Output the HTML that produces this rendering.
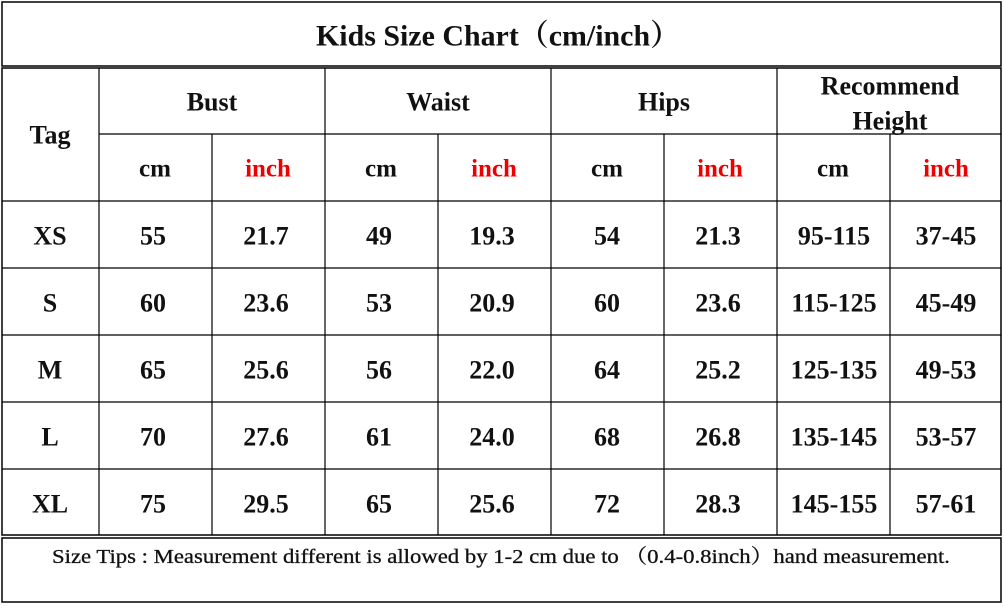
<!DOCTYPE html>
<html><head><meta charset="utf-8"><style>
body{margin:0;background:#fff;width:1004px;height:604px;overflow:hidden}
svg text{font-family:"Liberation Serif","Noto Serif CJK SC",serif;font-weight:bold;text-anchor:middle;dominant-baseline:central;fill:#111}
</style></head><body>
<svg width="1004" height="604" xmlns="http://www.w3.org/2000/svg">
<g stroke="#000" stroke-width="1.5" fill="none">
<rect x="2" y="2" width="999" height="64"/>
<rect x="2" y="68" width="999" height="467"/>
<rect x="2" y="538" width="999" height="64"/>
</g>
<g stroke="#000" stroke-width="1.2">
<line x1="99" y1="68" x2="99" y2="535"/>
<line x1="325" y1="68" x2="325" y2="535"/>
<line x1="551" y1="68" x2="551" y2="535"/>
<line x1="777" y1="68" x2="777" y2="535"/>
<line x1="212" y1="134" x2="212" y2="535"/>
<line x1="438" y1="134" x2="438" y2="535"/>
<line x1="664" y1="134" x2="664" y2="535"/>
<line x1="890" y1="134" x2="890" y2="535"/>
<line x1="99" y1="134" x2="1001" y2="134"/>
<line x1="2" y1="201" x2="1001" y2="201"/>
<line x1="2" y1="268" x2="1001" y2="268"/>
<line x1="2" y1="335" x2="1001" y2="335"/>
<line x1="2" y1="402" x2="1001" y2="402"/>
<line x1="2" y1="469" x2="1001" y2="469"/>
</g>
<text x="498" y="36" font-size="30" textLength="364" lengthAdjust="spacingAndGlyphs">Kids Size Chart（cm/inch）</text>
<g font-size="26">
<text x="50" y="135">Tag</text>
<text x="212" y="102">Bust</text>
<text x="438" y="102">Waist</text>
<text x="664" y="102">Hips</text>
<text x="890" y="86">Recommend</text>
<text x="890" y="121">Height</text>
</g>
<g font-size="25">
<text x="155" y="169">cm</text><text x="268" y="169" style="fill:#e00">inch</text>
<text x="381" y="169">cm</text><text x="494" y="169" style="fill:#e00">inch</text>
<text x="607" y="169">cm</text><text x="720" y="169" style="fill:#e00">inch</text>
<text x="833" y="169">cm</text><text x="946" y="169" style="fill:#e00">inch</text>
</g>
<g font-size="26">
<text x="50" y="236">XS</text><text x="153" y="236">55</text><text x="266" y="236">21.7</text><text x="379" y="236">49</text><text x="492" y="236">19.3</text><text x="607" y="236">54</text><text x="718" y="236">21.3</text><text x="834" y="236">95-115</text><text x="946" y="236">37-45</text>
<text x="50" y="303">S</text><text x="153" y="303">60</text><text x="266" y="303">23.6</text><text x="379" y="303">53</text><text x="492" y="303">20.9</text><text x="607" y="303">60</text><text x="718" y="303">23.6</text><text x="834" y="303">115-125</text><text x="946" y="303">45-49</text>
<text x="50" y="370">M</text><text x="153" y="370">65</text><text x="266" y="370">25.6</text><text x="379" y="370">56</text><text x="492" y="370">22.0</text><text x="607" y="370">64</text><text x="718" y="370">25.2</text><text x="834" y="370">125-135</text><text x="946" y="370">49-53</text>
<text x="50" y="437">L</text><text x="153" y="437">70</text><text x="266" y="437">27.6</text><text x="379" y="437">61</text><text x="492" y="437">24.0</text><text x="607" y="437">68</text><text x="718" y="437">26.8</text><text x="834" y="437">135-145</text><text x="946" y="437">53-57</text>
<text x="50" y="504">XL</text><text x="153" y="504">75</text><text x="266" y="504">29.5</text><text x="379" y="504">65</text><text x="492" y="504">25.6</text><text x="607" y="504">72</text><text x="718" y="504">28.3</text><text x="834" y="504">145-155</text><text x="946" y="504">57-61</text>
</g>
<text x="501" y="557" font-size="20" textLength="898" lengthAdjust="spacingAndGlyphs" style="font-weight:normal;stroke:#111;stroke-width:0.3">Size Tips : Measurement different is allowed by 1-2 cm due to （0.4-0.8inch）hand measurement.</text>
</svg>
</body></html>
